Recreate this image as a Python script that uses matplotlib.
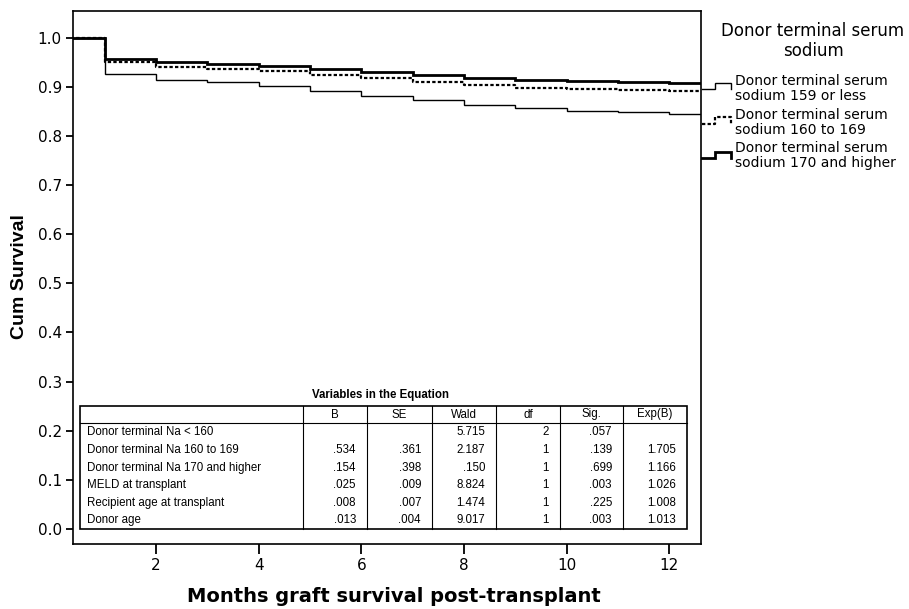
import matplotlib
matplotlib.use("Agg")
import matplotlib.pyplot as plt
from matplotlib.lines import Line2D
from matplotlib.patches import Rectangle
from matplotlib.transforms import Affine2D
import numpy as np

# ---------------- data ----------------
months = [0, 1, 2, 3, 4, 5, 6, 7, 8, 9, 10, 11, 12, 13]
surv_159_or_less = [1.0, 0.926, 0.9145, 0.909, 0.901, 0.891, 0.881, 0.872, 0.862, 0.857, 0.851, 0.848, 0.845]
surv_160_to_169 = [1.0, 0.950, 0.940, 0.937, 0.931, 0.924, 0.917, 0.910, 0.904, 0.898, 0.896, 0.894, 0.891]
surv_170_higher = [1.0, 0.957, 0.950, 0.947, 0.9415, 0.935, 0.929, 0.923, 0.918, 0.914, 0.911, 0.909, 0.907]

legend_title = "Donor terminal serum\nsodium"
legend_labels = ["Donor terminal serum\nsodium 159 or less",
                 "Donor terminal serum\nsodium 160 to 169",
                 "Donor terminal serum\nsodium 170 and higher"]

x_ticks = [2, 4, 6, 8, 10, 12]
y_ticks = [0.0, 0.1, 0.2, 0.3, 0.4, 0.5, 0.6, 0.7, 0.8, 0.9, 1.0]
x_label = "Months graft survival post-transplant"
y_label = "Cum Survival"

table_title = "Variables in the Equation"
table_header = ["", "B", "SE", "Wald", "df", "Sig.", "Exp(B)"]
table_rows = [
    ["Donor terminal Na < 160", "", "", "5.715", "2", ".057", ""],
    ["Donor terminal Na 160 to 169", ".534", ".361", "2.187", "1", ".139", "1.705"],
    ["Donor terminal Na 170 and higher", ".154", ".398", ".150", "1", ".699", "1.166"],
    ["MELD at transplant", ".025", ".009", "8.824", "1", ".003", "1.026"],
    ["Recipient age at transplant", ".008", ".007", "1.474", "1", ".225", "1.008"],
    ["Donor age", ".013", ".004", "9.017", "1", ".003", "1.013"],
]

# ---------------- figure ----------------
W, H = 909, 609
fig = plt.figure(figsize=(W / 100, H / 100), dpi=100)
fig.patch.set_facecolor("white")
# pixel transform (x from left, y from top)
T = Affine2D().scale(1 / W, -1 / H).translate(0, 1) + fig.transFigure

ax_l, ax_r, ax_t, ax_b = 73, 701, 11, 544
ax = fig.add_axes([ax_l / W, 1 - ax_b / H, (ax_r - ax_l) / W, (ax_b - ax_t) / H])

styles = [
    dict(color="black", lw=1.0, ls="-"),
    dict(color="black", lw=1.6, ls=(0, (1.5, 1.0))),
    dict(color="black", lw=2.0, ls="-"),
]
series = [surv_159_or_less, surv_160_to_169, surv_170_higher]
for vals, st in zip(series, styles):
    y = list(vals) + [vals[-1]]
    ax.plot(months, y, drawstyle="steps-post", solid_joinstyle="miter", **st)

ax.set_xlim(0.38, 12.62)
ax.set_ylim(-0.0305, 1.054)
ax.set_xticks(x_ticks)
ax.set_yticks(y_ticks)
ax.set_yticklabels([f"{v:.1f}" for v in y_ticks])
for s in ax.spines.values():
    s.set_linewidth(1.2)
ax.tick_params(axis="both", direction="out", width=1.3, labelsize=11,
               top=False, right=False)
ax.tick_params(axis="x", length=7, pad=3)
ax.tick_params(axis="y", length=5, pad=3)

# axis labels
fig.text(20, 277, y_label, transform=T, rotation=90, ha="center", va="center",
         fontsize=14, fontweight="bold", family="Liberation Sans")
fig.text(394, 596, x_label, transform=T, ha="center", va="center",
         fontsize=14, fontweight="bold", family="DejaVu Sans")

# ---------------- legend (right) ----------------
fig.text(813, 41, legend_title, transform=T, ha="center", va="center",
         fontsize=12, linespacing=1.1)
glyph_base = [89, 124, 158]
glyph_top = [83, 117, 152]
text_y = [88.5, 122.5, 155.5]
for base, top, ty, lab, st in zip(glyph_base, glyph_top, text_y, legend_labels, styles):
    xs = [702, 715, 715, 731, 731]
    ys = [base, base, top, top, base]
    fig.add_artist(Line2D(xs, ys, transform=T, solid_joinstyle="miter", **st))
    fig.text(735, ty, lab, transform=T, ha="left", va="center", fontsize=10,
             linespacing=1.05)

# ---------------- table ----------------
tl, tr, tt, tb = 80, 687, 406, 529
hdr_b = 423
col_edges = [tl, 303, 367, 432, 496, 560, 623, tr]
row_y = [432, 450, 468, 485, 503, 520]
tfont = dict(fontsize=8.3, family="Liberation Sans")

fig.add_artist(Rectangle((tl, tt), tr - tl, tb - tt, transform=T,
                         facecolor="white", edgecolor="black", lw=1.2, zorder=3))
fig.add_artist(Line2D([tl, tr], [hdr_b, hdr_b], transform=T, color="black",
                      lw=0.8, zorder=4))
for xe in col_edges[1:-1]:
    fig.add_artist(Line2D([xe, xe], [tt, tb], transform=T, color="black",
                          lw=0.8, zorder=4))
fig.text((tl + tr) / 2 - 3, 395, table_title, transform=T, ha="center",
         va="center", fontweight="bold", zorder=5, **tfont)
for j, h in enumerate(table_header):
    if h:
        fig.text((col_edges[j] + col_edges[j + 1]) / 2, 414.5, h, transform=T,
                 ha="center", va="center", zorder=5, **tfont)
for ry, row in zip(row_y, table_rows):
    for j, cell in enumerate(row):
        if not cell:
            continue
        if j == 0:
            fig.text(tl + 7, ry, cell, transform=T, ha="left", va="center",
                     zorder=5, **tfont)
        else:
            fig.text(col_edges[j + 1] - 11, ry, cell, transform=T, ha="right",
                     va="center", zorder=5, **tfont)

fig.savefig("out.png", dpi=100, facecolor="white")
